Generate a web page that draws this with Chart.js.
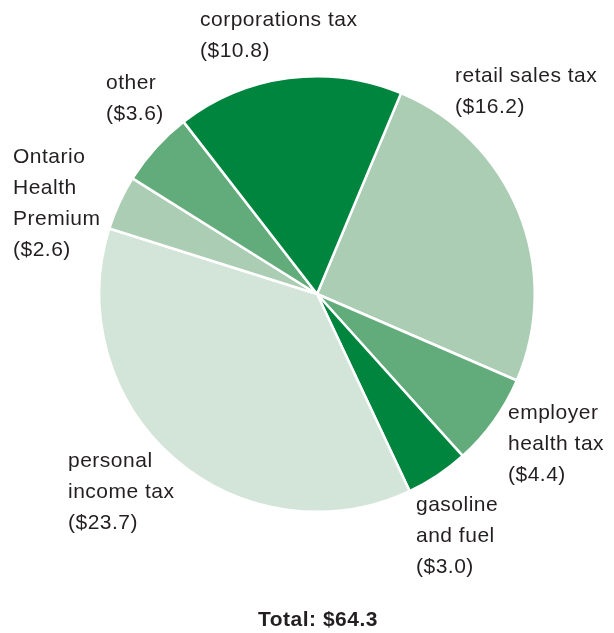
<!DOCTYPE html>
<html>
<head>
<meta charset="utf-8">
<script src="https://cdn.jsdelivr.net/npm/chart.js@4"></script>
<style>
  html, body { margin: 0; padding: 0; background: #ffffff; }
  #wrap { width: 614px; height: 633px; position: relative; }
</style>
</head>
<body>
<div id="wrap"><canvas id="chart" width="614" height="633"></canvas></div>
<script>
// Ontario revenue sources, billions of dollars (clockwise from the retail sales tax slice)
const categories = [
  'retail sales tax',
  'employer\nhealth tax',
  'gasoline\nand fuel',
  'personal\nincome tax',
  'Ontario\nHealth\nPremium',
  'other',
  'corporations tax'
];
const revenue = [16.2, 4.4, 3.0, 23.7, 2.6, 3.6, 10.8];

const DARK = '#00853f';
const MID = '#62ab7a';
const LIGHT = '#abcdb3';
const PALE = '#d2e5d8';
const sliceColors = [LIGHT, MID, DARK, PALE, LIGHT, MID, DARK];

// label placement: left edge and first-line centre, relative to the pie centre
const labelPlacement = [
  { dx: 138, dy: -218 },
  { dx: 191, dy: 119 },
  { dx: 99, dy: 211 },
  { dx: -249, dy: 167 },
  { dx: -304, dy: -137 },
  { dx: -211, dy: -211 },
  { dx: -117, dy: -274 }
];

const TEXT_FONT = '21px "Liberation Sans", Arial, sans-serif';
const LINE_H = 31;

const sliceLabels = {
  id: 'sliceLabels',
  afterDraw(chart) {
    const ctx = chart.ctx;
    const arc = chart.getDatasetMeta(0).data[0];
    const cx = arc.x, cy = arc.y;
    ctx.save();
    ctx.fillStyle = '#231f20';
    ctx.font = TEXT_FONT;
    ctx.letterSpacing = '0.5px';
    ctx.textAlign = 'left';
    ctx.textBaseline = 'middle';
    categories.forEach((name, i) => {
      const lines = name.split('\n').concat('($' + revenue[i].toFixed(1) + ')');
      const p = labelPlacement[i];
      lines.forEach((ln, k) => {
        ctx.fillText(ln, cx + p.dx, cy + p.dy + k * LINE_H);
      });
    });
    const total = revenue.reduce((a, b) => a + b, 0);
    ctx.font = 'bold 21px "Liberation Sans", Arial, sans-serif';
    ctx.textAlign = 'center';
    ctx.fillText('Total: $' + total.toFixed(1), 318, 620);
    ctx.restore();
  }
};

new Chart(document.getElementById('chart'), {
  type: 'pie',
  data: {
    labels: categories,
    datasets: [{
      data: revenue,
      backgroundColor: sliceColors,
      borderColor: '#ffffff',
      borderWidth: 2.5,
      hoverOffset: 0
    }]
  },
  options: {
    responsive: false,
    animation: false,
    rotation: 22.7,
    layout: { padding: { left: 98, right: 78, top: 75, bottom: 120 } },
    plugins: {
      legend: { display: false },
      tooltip: { enabled: false },
      title: { display: false }
    }
  },
  plugins: [sliceLabels]
});
</script>
</body>
</html>
